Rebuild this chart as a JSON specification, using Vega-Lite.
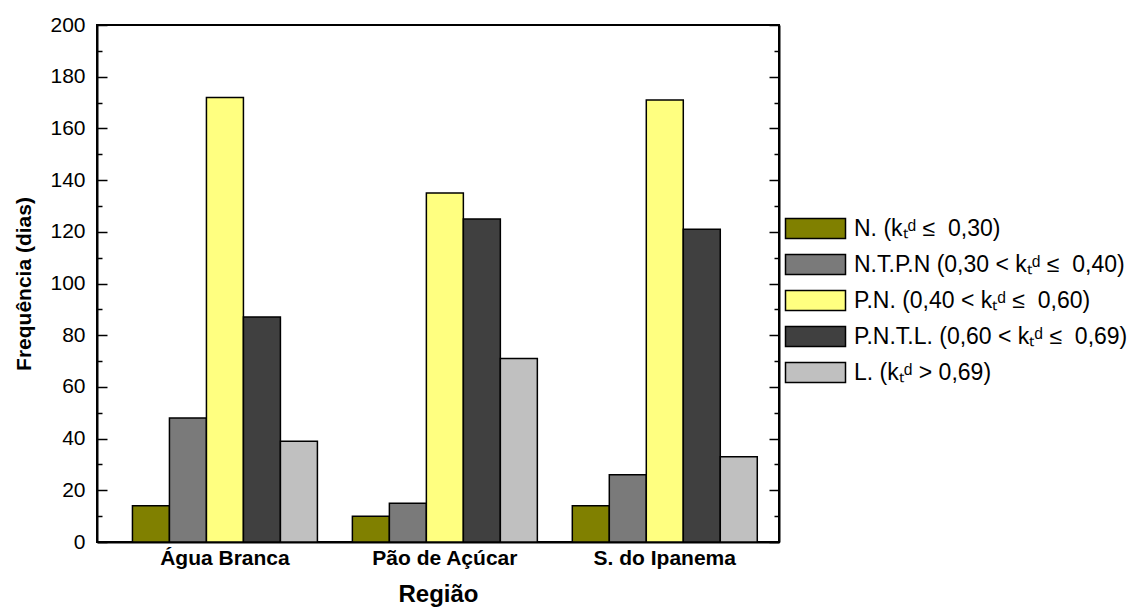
{
  "$schema": "https://vega.github.io/schema/vega-lite/v6.json",
  "width": 682,
  "height": 517,
  "autosize": "none",
  "padding": {"left": 97, "top": 25, "right": 362, "bottom": 68},
  "background": "white",
  "config": {
    "font": "Liberation Sans",
    "view": {"stroke": "black", "strokeWidth": 2}
  },
  "data": {
    "values": [
      {"region": "Água Branca", "cls": "N. (kₜᵈ ≤\u00a0 0,30)", "value": 14},
      {"region": "Água Branca", "cls": "N.T.P.N (0,30 < kₜᵈ ≤\u00a0 0,40)", "value": 48},
      {"region": "Água Branca", "cls": "P.N. (0,40 < kₜᵈ ≤\u00a0 0,60)", "value": 172},
      {"region": "Água Branca", "cls": "P.N.T.L. (0,60 < kₜᵈ ≤\u00a0 0,69)", "value": 87},
      {"region": "Água Branca", "cls": "L. (kₜᵈ > 0,69)", "value": 39},
      {"region": "Pão de Açúcar", "cls": "N. (kₜᵈ ≤\u00a0 0,30)", "value": 10},
      {"region": "Pão de Açúcar", "cls": "N.T.P.N (0,30 < kₜᵈ ≤\u00a0 0,40)", "value": 15},
      {"region": "Pão de Açúcar", "cls": "P.N. (0,40 < kₜᵈ ≤\u00a0 0,60)", "value": 135},
      {"region": "Pão de Açúcar", "cls": "P.N.T.L. (0,60 < kₜᵈ ≤\u00a0 0,69)", "value": 125},
      {"region": "Pão de Açúcar", "cls": "L. (kₜᵈ > 0,69)", "value": 71},
      {"region": "S. do Ipanema", "cls": "N. (kₜᵈ ≤\u00a0 0,30)", "value": 14},
      {"region": "S. do Ipanema", "cls": "N.T.P.N (0,30 < kₜᵈ ≤\u00a0 0,40)", "value": 26},
      {"region": "S. do Ipanema", "cls": "P.N. (0,40 < kₜᵈ ≤\u00a0 0,60)", "value": 171},
      {"region": "S. do Ipanema", "cls": "P.N.T.L. (0,60 < kₜᵈ ≤\u00a0 0,69)", "value": 121},
      {"region": "S. do Ipanema", "cls": "L. (kₜᵈ > 0,69)", "value": 33}
    ]
  },
  "layer": [
    {
      "mark": {"type": "bar", "stroke": "black", "strokeWidth": 1.5},
      "encoding": {
        "x": {
          "field": "region", "type": "nominal",
          "sort": ["Água Branca", "Pão de Açúcar", "S. do Ipanema"],
          "scale": {"paddingInner": 0.159, "paddingOuter": 0.13, "align": 0.62},
          "axis": {
            "title": "Região", "titleFontSize": 24, "titleFontWeight": "bold", "titleColor": "black",
            "titlePadding": 14,
            "labelFontSize": 21, "labelFontWeight": "bold", "labelColor": "black", "labelAngle": 0,
            "labelPadding": 5,
            "ticks": false, "domainColor": "black", "domainWidth": 2
          }
        },
        "xOffset": {
          "field": "cls", "type": "nominal",
          "sort": ["N. (kₜᵈ ≤\u00a0 0,30)", "N.T.P.N (0,30 < kₜᵈ ≤\u00a0 0,40)", "P.N. (0,40 < kₜᵈ ≤\u00a0 0,60)", "P.N.T.L. (0,60 < kₜᵈ ≤\u00a0 0,69)", "L. (kₜᵈ > 0,69)"],
          "scale": {"paddingInner": 0, "paddingOuter": 0}
        },
        "y": {
          "field": "value", "type": "quantitative",
          "scale": {"domain": [0, 200], "nice": false},
          "axis": {
            "title": "Frequência (dias)", "titleFontSize": 21, "titleFontWeight": "bold", "titleColor": "black",
            "titlePadding": 15,
            "values": [0, 10, 20, 30, 40, 50, 60, 70, 80, 90, 100, 110, 120, 130, 140, 150, 160, 170, 180, 190, 200],
            "labelExpr": "datum.value % 20 === 0 ? datum.label : ''",
            "labelFontSize": 21, "labelColor": "black", "labelPadding": 22,
            "tickSize": {"condition": {"test": "datum.value % 20 === 0", "value": -10}, "value": -5},
            "tickColor": "black", "tickWidth": 1.5,
            "domainColor": "black", "domainWidth": 2, "grid": false
          }
        },
        "fill": {
          "field": "cls", "type": "nominal",
          "scale": {
            "domain": ["N. (kₜᵈ ≤\u00a0 0,30)", "N.T.P.N (0,30 < kₜᵈ ≤\u00a0 0,40)", "P.N. (0,40 < kₜᵈ ≤\u00a0 0,60)", "P.N.T.L. (0,60 < kₜᵈ ≤\u00a0 0,69)", "L. (kₜᵈ > 0,69)"],
            "range": ["#808000", "#7a7a7a", "#ffff80", "#404040", "#c0c0c0"]
          },
          "legend": {
            "title": null, "orient": "none", "legendX": 707, "legendY": 192,
            "symbolType": "M-3,-1H3V1H-3Z", "symbolSize": 400,
            "symbolStrokeColor": "black", "symbolStrokeWidth": 1.5, "symbolOpacity": 1,
            "labelFontSize": 23, "labelColor": "black", "labelOffset": 27, "labelLimit": 400,
            "rowPadding": 9
          }
        }
      }
    },
    {
      "mark": {"type": "bar", "opacity": 0},
      "encoding": {
        "x": {"field": "region", "type": "nominal", "sort": ["Água Branca", "Pão de Açúcar", "S. do Ipanema"]},
        "xOffset": {
          "field": "cls", "type": "nominal",
          "sort": ["N. (kₜᵈ ≤\u00a0 0,30)", "N.T.P.N (0,30 < kₜᵈ ≤\u00a0 0,40)", "P.N. (0,40 < kₜᵈ ≤\u00a0 0,60)", "P.N.T.L. (0,60 < kₜᵈ ≤\u00a0 0,69)", "L. (kₜᵈ > 0,69)"]
        },
        "y": {
          "field": "value", "type": "quantitative",
          "scale": {"domain": [0, 200], "nice": false},
          "axis": {
            "orient": "right", "title": null, "labels": false,
            "values": [0, 10, 20, 30, 40, 50, 60, 70, 80, 90, 100, 110, 120, 130, 140, 150, 160, 170, 180, 190, 200],
            "tickSize": {"condition": {"test": "datum.value % 20 === 0", "value": -10}, "value": -5},
            "tickColor": "black", "tickWidth": 1.5,
            "domainColor": "black", "domainWidth": 2, "grid": false
          }
        }
      }
    }
  ],
  "resolve": {"axis": {"y": "independent"}}
}
